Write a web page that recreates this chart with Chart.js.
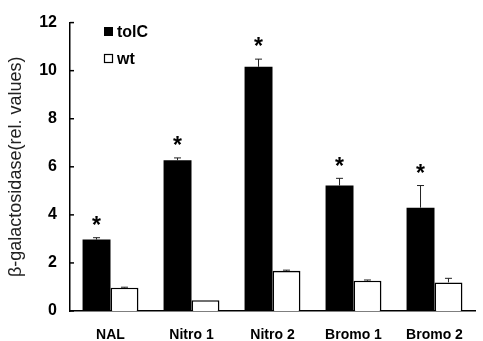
<!DOCTYPE html>
<html>
<head>
<meta charset="utf-8">
<script src="https://cdn.jsdelivr.net/npm/chart.js"></script>
<style>
  body { margin: 0; background: #fff; }
  canvas { display: block; }
</style>
</head>
<body>
<canvas id="chartCanvas" width="483" height="341"></canvas>
<script>
// Data
const categories = ['NAL', 'Nitro 1', 'Nitro 2', 'Bromo 1', 'Bromo 2'];
const tolC = [2.97, 6.27, 10.16, 5.22, 4.30];
const tolCErr = [0.08, 0.10, 0.32, 0.30, 0.92];
const wt = [0.97, 0.45, 1.67, 1.26, 1.19];
const wtErr = [0.02, 0.00, 0.03, 0.03, 0.17];
const yTicks = [0, 2, 4, 6, 8, 10, 12];
const seriesNames = ['tolC', 'wt'];
const marker = '*';

const FONT = '"Liberation Sans", Arial, sans-serif';

// error bars, significance stars, inner y ticks and legend
const extras = {
  id: 'extras',
  afterDatasetsDraw(chart) {
    const ctx = chart.ctx;
    const y = chart.scales.y;
    const errs = [tolCErr, wtErr];
    const vals = [tolC, wt];
    ctx.save();
    ctx.strokeStyle = '#222';
    ctx.lineWidth = 1;
    [0, 1].forEach(d => {
      const meta = chart.getDatasetMeta(d);
      meta.data.forEach((bar, i) => {
        if (!errs[d][i]) return;
        const top = y.getPixelForValue(vals[d][i] + errs[d][i]);
        const base = y.getPixelForValue(vals[d][i]);
        ctx.beginPath();
        ctx.moveTo(bar.x, base);
        ctx.lineTo(bar.x, top);
        ctx.moveTo(bar.x - 3.5, top);
        ctx.lineTo(bar.x + 3.5, top);
        ctx.stroke();
      });
    });

    // stars over tolC
    ctx.fillStyle = '#000';
    ctx.font = 'bold 23px ' + FONT;
    ctx.textAlign = 'center';
    ctx.textBaseline = 'middle';
    chart.getDatasetMeta(0).data.forEach((bar, i) => {
      const top = y.getPixelForValue(tolC[i] + tolCErr[i]);
      ctx.fillText(marker, bar.x, top - 11);
    });

    // inward tick marks on y axis
    ctx.strokeStyle = '#000';
    ctx.lineWidth = 1.5;
    yTicks.forEach(t => {
      const py = y.getPixelForValue(t);
      ctx.beginPath();
      ctx.moveTo(y.right, py);
      ctx.lineTo(y.right + 4, py);
      ctx.stroke();
    });

    // legend
    ctx.font = 'bold 16px ' + FONT;
    ctx.textAlign = 'left';
    ctx.textBaseline = 'middle';
    const lx = 104;
    [31.5, 58.5].forEach((ly, k) => {
      ctx.lineWidth = 1.2;
      if (k === 0) {
        ctx.fillStyle = '#000';
        ctx.fillRect(lx, ly - 4.5, 9, 9);
      } else {
        ctx.strokeRect(lx + 0.5, ly - 4, 8, 8);
      }
      ctx.fillStyle = '#000';
      ctx.fillText(seriesNames[k], lx + 13, ly + 1);
    });
    ctx.restore();
  }
};

new Chart(document.getElementById('chartCanvas'), {
  type: 'bar',
  data: {
    labels: categories,
    datasets: [
      {
        label: seriesNames[0],
        data: tolC,
        backgroundColor: '#000',
        borderColor: '#000',
        borderWidth: 0
      },
      {
        label: seriesNames[1],
        data: wt,
        backgroundColor: '#fff',
        borderColor: '#000',
        borderWidth: 1.6
      }
    ]
  },
  options: {
    responsive: false,
    animation: false,
    layout: { padding: { top: 16, right: 8, left: 0, bottom: 0 } },
    datasets: { bar: { categoryPercentage: 0.69, barPercentage: 1 } },
    plugins: {
      legend: { display: false },
      tooltip: { enabled: false }
    },
    scales: {
      x: {
        grid: { display: false },
        border: { display: true, color: '#000', width: 1.5 },
        ticks: {
          color: '#000',
          padding: 8,
          font: { family: FONT, size: 14, weight: 'bold' }
        },
        afterFit(scale) { scale.height = 30; }
      },
      y: {
        min: 0,
        max: 12,
        afterBuildTicks(scale) { scale.ticks = yTicks.map(v => ({ value: v })); },
        grid: { display: false, drawTicks: false },
        border: { display: true, color: '#000', width: 1.5 },
        ticks: {
          color: '#000',
          padding: 13,
          font: { family: FONT, size: 16, weight: 'bold' }
        },
        title: {
          display: true,
          text: 'β-galactosidase(rel. values)',
          color: '#222',
          padding: { top: 5, bottom: 0 },
          font: { family: FONT, size: 18 }
        },
        afterFit(scale) { scale.width = 70; }
      }
    }
  },
  plugins: [extras]
});
</script>
</body>
</html>
